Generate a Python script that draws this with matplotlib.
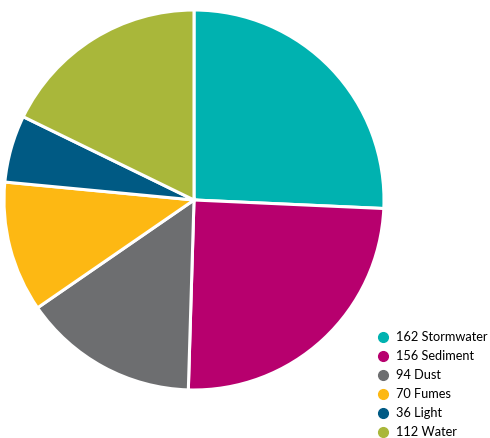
import matplotlib.pyplot as plt
from matplotlib.lines import Line2D

labels = ["Stormwater", "Sediment", "Dust", "Fumes", "Light", "Water"]
values = [162, 156, 94, 70, 36, 112]
colors = ["#00B2B0", "#B7006E", "#6D6E70", "#FDB813", "#005A84", "#A9B73A"]

plt.rcParams["font.family"] = ["Lato", "DejaVu Sans"]

fig = plt.figure(figsize=(4.9, 4.38), dpi=100)
W, H = 490, 438
ax = fig.add_axes([4 / W, (H - 390) / H, 380 / W, 380 / H])
ax.pie(values, colors=colors, startangle=90, counterclock=False,
       wedgeprops=dict(edgecolor="white", linewidth=2.2))
ax.set_xlim(-1.0, 1.0)
ax.set_ylim(-1.0, 1.0)
ax.set_aspect("equal")

handles = [Line2D([], [], marker="o", linestyle="none", markersize=7,
                  markerfacecolor=c, markeredgecolor=c) for c in colors]
texts = [f"{v} {l}" for v, l in zip(values, labels)]
fig.legend(handles, texts, loc="upper left", bbox_to_anchor=(377 / W, 1 - 331 / H),
           frameon=False, fontsize=9.2, handletextpad=0.45, labelspacing=0.55,
           handlelength=1.0, borderaxespad=0, borderpad=0)

fig.savefig("out.png", dpi=100)
